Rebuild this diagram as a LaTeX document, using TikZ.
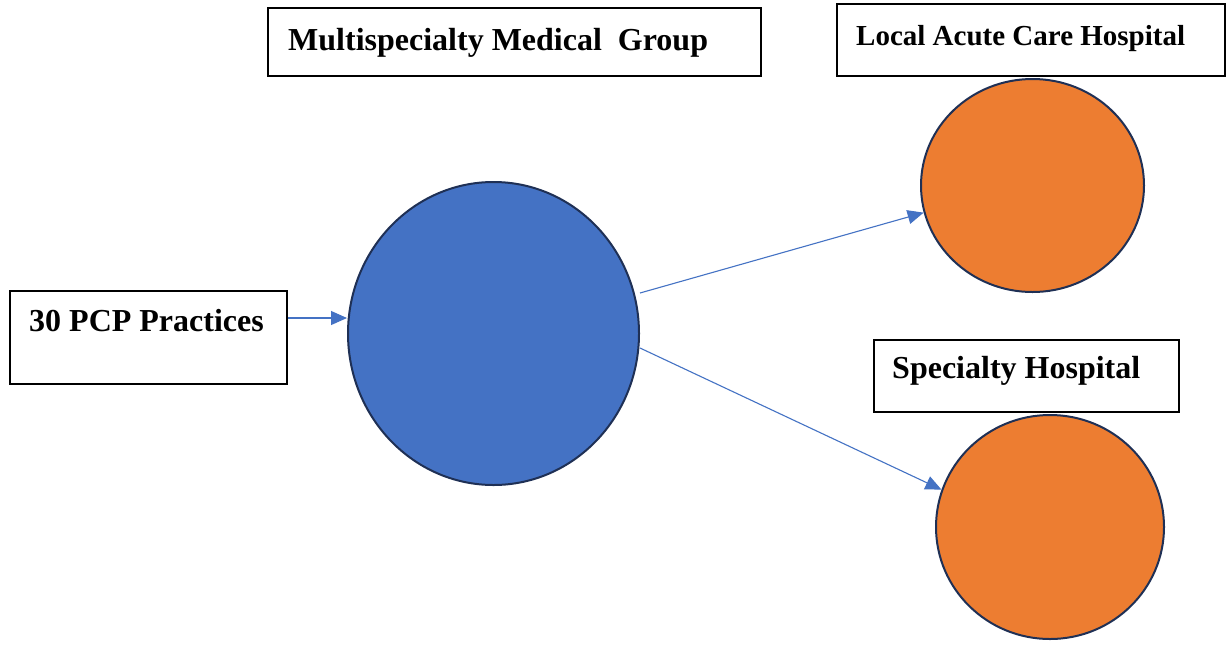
\documentclass[tikz,border=0pt]{standalone}
\usepackage{fontspec}
\setmainfont{Liberation Serif}
\usetikzlibrary{shapes.geometric,arrows.meta,calc}
\definecolor{accblue}{HTML}{4472C4}
\definecolor{accorange}{HTML}{ED7D31}
\definecolor{navy}{HTML}{1F3055}
\begin{document}
\begin{tikzpicture}[x=1pt,y=-1pt,
  box/.style={draw=black,line width=1.6pt,fill=white,inner sep=0pt,rectangle},
  lbl/.style={anchor=base west,inner sep=0pt,font=\bfseries\fontsize{32}{38}\selectfont},
  lblsmall/.style={anchor=base west,inner sep=0pt,font=\bfseries\fontsize{29}{35}\selectfont},
  bigdisk/.style={ellipse,draw=navy,line width=2pt,inner sep=0pt},
  conn/.style={draw=accblue,line width=1.1pt,-{Triangle[length=16pt,width=14pt]}}]
\useasboundingbox[fill=white] (0,0) rectangle (1230,646);
% boxes
\node[box,minimum width=493.5pt,minimum height=68.5pt] (mgbox) at (514.5,42) {};
\node[box,minimum width=388.5pt,minimum height=72.5pt] (lacbox) at (1031,40) {};
\node[box,minimum width=277.5pt,minimum height=93.5pt] (pcp) at (148.5,337.5) {};
\node[box,minimum width=305.5pt,minimum height=72.5pt] (shbox) at (1026.5,376) {};
\node[lbl] (mgtext) at (288,50) {Multispecialty Medical\ \ Group};
\node[lblsmall] (lactext) at (856,45) {Local Acute Care Hospital};
\node[lbl] (pcptext) at (29,331.5) {30 PCP Practices};
\node[lbl] (shtext) at (892,378) {Specialty Hospital};
% disks
\node[bigdisk,fill=accblue,minimum width=291pt,minimum height=303pt] (mg) at (493.5,333.5) {};
\node[bigdisk,fill=accorange,minimum width=223pt,minimum height=213pt] (lac) at (1032.5,185.5) {};
\node[bigdisk,fill=accorange,minimum width=228pt,minimum height=224pt] (sh) at (1050,527) {};
% connectors
\draw[conn] (pcp.east |- 0,318) -- (mg.west |- 0,318);
\draw[conn] ($(mg.center)+(146.5,-40.5)$) -- (lac.194);
\draw[conn] ($(mg.center)+(146.5,14.5)$) -- (sh.161);
\end{tikzpicture}
\end{document}
